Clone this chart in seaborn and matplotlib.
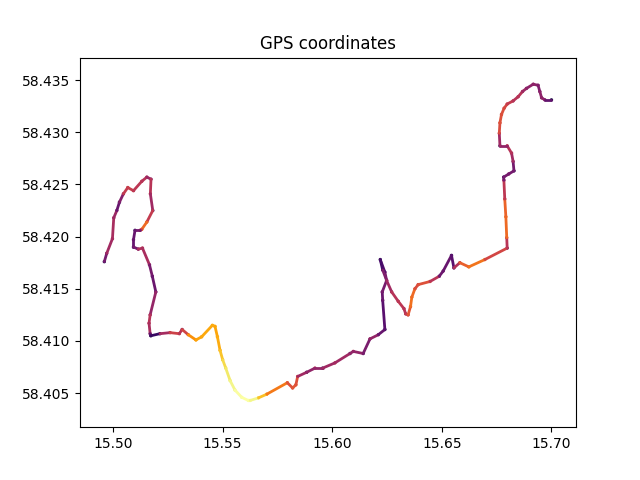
import pandas as pd
import matplotlib
matplotlib.use("Agg")
import matplotlib.pyplot as plt
from matplotlib.ticker import MultipleLocator
import seaborn as sns

lon = [15.4960, 15.4971, 15.4997, 15.5003, 15.5017, 15.5029, 15.5047, 15.5067, 15.5093, 15.5131,
       15.5154, 15.5173, 15.5170, 15.5181, 15.5154, 15.5131, 15.5123, 15.5100, 15.5093, 15.5093,
       15.5115, 15.5134, 15.5166, 15.5179, 15.5195, 15.5169, 15.5164, 15.5169, 15.5172, 15.5214,
       15.5260, 15.5302, 15.5315, 15.5343, 15.5378, 15.5404, 15.5453, 15.5465, 15.5476, 15.5488,
       15.5500, 15.5514, 15.5534, 15.5556, 15.5587, 15.5617, 15.5625, 15.5663, 15.5701, 15.5795,
       15.5819, 15.5834, 15.5842, 15.5883, 15.5921, 15.5956, 15.6012, 15.6081, 15.6096, 15.6141,
       15.6172, 15.6210, 15.6240, 15.6230, 15.6228, 15.6248, 15.6240, 15.6219, 15.6230, 15.6248,
       15.6271, 15.6301, 15.6327, 15.6335, 15.6346, 15.6357, 15.6363, 15.6377, 15.6392, 15.6446,
       15.6488, 15.6506, 15.6544, 15.6555, 15.6582, 15.6623, 15.6696, 15.6798, 15.6796, 15.6792,
       15.6787, 15.6783, 15.6782, 15.6805, 15.6829, 15.6825, 15.6818, 15.6798, 15.6765, 15.6762,
       15.6765, 15.6772, 15.6784, 15.6798, 15.6825, 15.6848, 15.6868, 15.6886, 15.6917, 15.6939,
       15.6947, 15.6955, 15.6970, 15.7000]
lat = [58.4176, 58.4184, 58.4198, 58.4218, 58.4225, 58.4233, 58.4241, 58.4247, 58.4244, 58.4253,
       58.4257, 58.4255, 58.4241, 58.4225, 58.4214, 58.4207, 58.4206, 58.4206, 58.4197, 58.4190,
       58.4188, 58.4189, 58.4173, 58.4162, 58.4147, 58.4125, 58.4117, 58.4107, 58.4105, 58.4107,
       58.4108, 58.4107, 58.4111, 58.4106, 58.4101, 58.4104, 58.4115, 58.4114, 58.4104, 58.4091,
       58.4082, 58.4074, 58.4062, 58.4053, 58.4046, 58.4043, 58.4043, 58.40455, 58.4049, 58.4060,
       58.4055, 58.4058, 58.4066, 58.4070, 58.4074, 58.4074, 58.4079, 58.4088, 58.4090, 58.4088,
       58.4102, 58.4106, 58.4111, 58.4139, 58.4147, 58.4158, 58.4166, 58.4178, 58.4168, 58.4158,
       58.4147, 58.4138, 58.4131, 58.4126, 58.4125, 58.4133, 58.4142, 58.4150, 58.4154, 58.4157,
       58.4162, 58.4167, 58.4182, 58.4170, 58.4175, 58.4171, 58.4178, 58.4189, 58.4199, 58.4219,
       58.4236, 58.4254, 58.4257, 58.4260, 58.4263, 58.4272, 58.4280, 58.4287, 58.4287, 58.4299,
       58.4309, 58.4317, 58.4323, 58.4327, 58.4330, 58.4334, 58.4339, 58.4342, 58.4346, 58.4345,
       58.4339, 58.4333, 58.4331, 58.4331]
speed = [.15, .4, .45, .45, .35, .15, .45, .55, .5, .5,
         .45, .35, .55, .15, .68, .65, .4, .15, .35, .15,
         .4, .5, .35, .3, .3, .45, .5, .35, .12, .2,
         .55, .55, .35, .65, .8, .78, .82, .8, .8, .82,
         .88, .92, .95, .98, 1.0, 1.0, 1.0, .9, .75, .6,
         .6, .62, .55, .15, .5, .15, .55, .15, .5, .15,
         .42, .35, .15, .3, .3, .35, .3, .12, .25, .4,
         .45, .5, .5, .45, .55, .65, .7, .6, .55, .62,
         .2, .35, .15, .3, .55, .68, .7, .25, .6, .7,
         .55, .4, .15, .4, .15, .4, .45, .5, .15, .55,
         .6, .6, .58, .55, .45, .5, .45, .35, .4, .35,
         .35, .4, .35, .12]

cmap = plt.get_cmap("inferno")

# one short line per pair of points so the colour can follow the speed
rows = []
colors = []
for i in range(len(lon) - 1):
    rows.append((i, lon[i], lat[i]))
    rows.append((i, lon[i + 1], lat[i + 1]))
    hi = max(speed[i], speed[i + 1])
    lo = min(speed[i], speed[i + 1])
    colors.append(cmap(0.7 * hi + 0.3 * lo))
segs = pd.DataFrame(rows, columns=["seg", "lon", "lat"])
points = pd.DataFrame({"lon": lon, "lat": lat, "speed": speed})

fig, ax = plt.subplots(figsize=(6.4, 4.8), dpi=100)
sns.lineplot(data=segs, x="lon", y="lat", hue="seg", palette=colors, sort=False,
             estimator=None, legend=False, linewidth=2.0, solid_capstyle="round", ax=ax)
sns.scatterplot(data=points, x="lon", y="lat", hue="speed", palette="inferno",
                hue_norm=(0, 1), s=6, linewidth=0, legend=False, ax=ax)
ax.set_xlim(15.4849, 15.7112)
ax.set_ylim(58.40174, 58.43715)
ax.xaxis.set_major_locator(MultipleLocator(0.05))
ax.yaxis.set_major_locator(MultipleLocator(0.005))
ax.set_title("GPS coordinates")
ax.set_xlabel("")
ax.set_ylabel("")
fig.savefig("out.png", dpi=100)
